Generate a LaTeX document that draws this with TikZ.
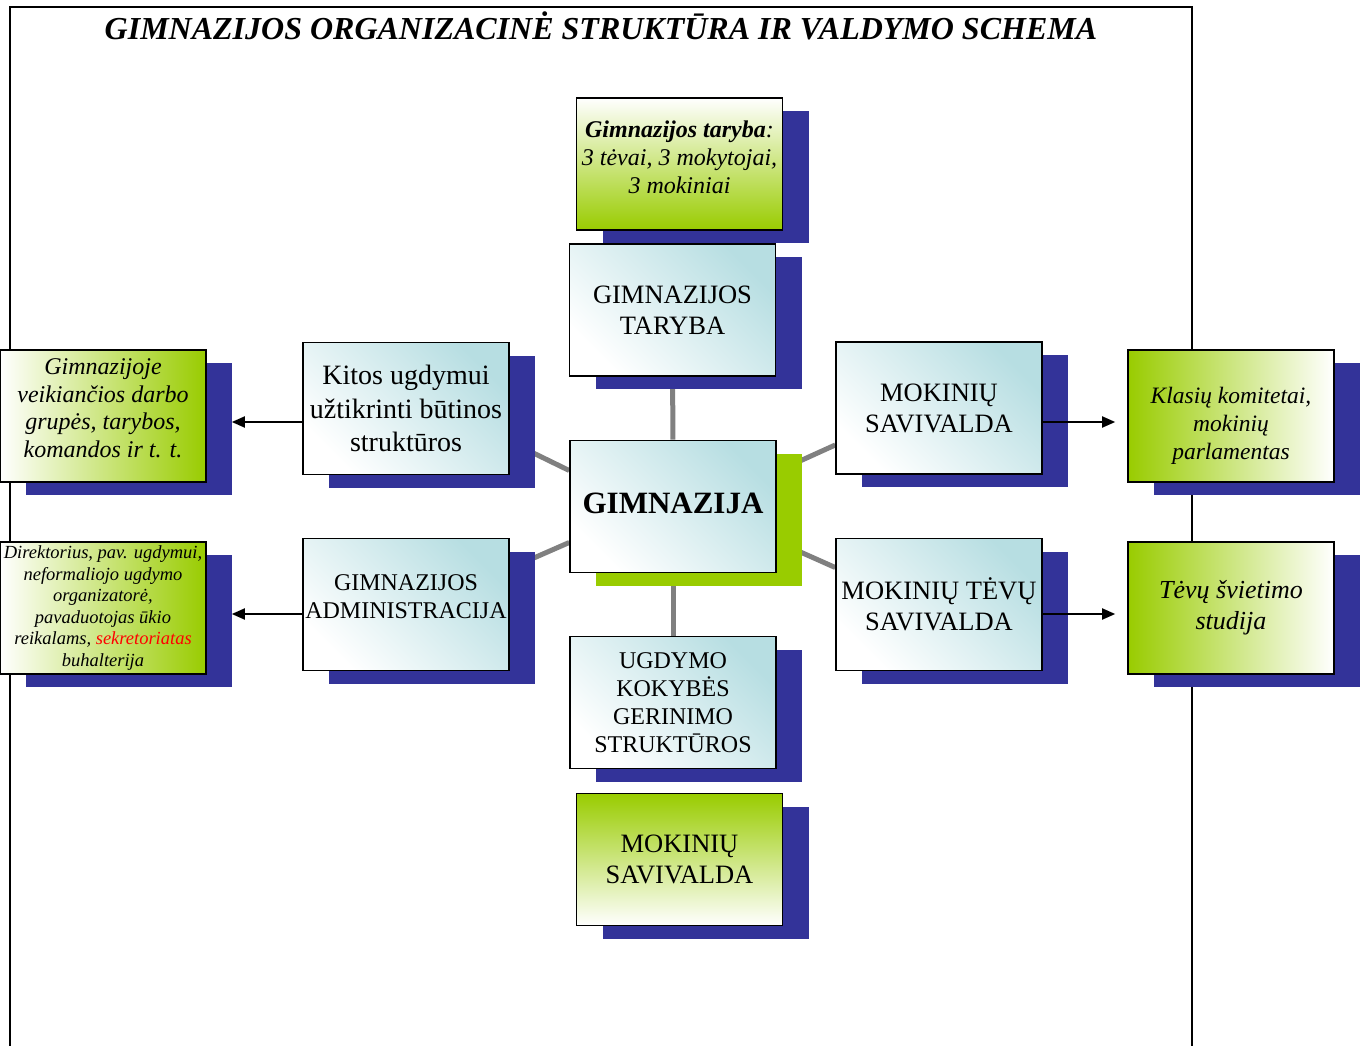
\documentclass[tikz,border=0pt]{standalone}
\usepackage{fontspec}
\setmainfont{Liberation Serif}
\usetikzlibrary{shadows,arrows.meta,backgrounds,calc}
\definecolor{shblue}{RGB}{51,51,153}
\definecolor{gimgreen}{RGB}{153,204,0}
\definecolor{lteal}{RGB}{183,222,226}
\definecolor{linkgray}{RGB}{128,128,128}
\begin{document}
\begin{tikzpicture}[x=1pt, y=-1pt,
    box/.style={draw=black, line width=1.6pt, minimum width=206pt, minimum height=132pt, inner sep=1pt, align=center},
    bshadow/.style={drop shadow={shadow xshift=26pt, shadow yshift=-13pt, fill=shblue, opacity=1}},
    gshadow/.style={drop shadow={shadow xshift=26pt, shadow yshift=-13pt, fill=gimgreen, opacity=1}},
    bluebox/.style={box, bshadow, top color=lteal, bottom color=white, shading angle=-45},
    gleft/.style={box, bshadow, left color=white, right color=gimgreen},
    gright/.style={box, bshadow, left color=gimgreen, right color=white},
    gtop/.style={box, bshadow, top color=white, bottom color=gimgreen},
    gbot/.style={box, bshadow, top color=gimgreen, bottom color=white},
    link/.style={draw=linkgray, line width=5pt},
    arr/.style={draw=black, line width=1.8pt, -{Triangle[length=13pt,width=11pt]}}
  ]
    \useasboundingbox (0,0) rectangle (1366,1046);
    % ramas
    \draw[line width=2.2pt] (10,1046) -- (10,7) -- (1192,7) -- (1192,1046);
    \node[anchor=base, font=\bfseries\itshape\fontsize{32}{38}\selectfont] (title) at (601,40)
      {GIMNAZIJOS ORGANIZACINĖ STRUKTŪRA IR VALDYMO SCHEMA};
    % centrinis stulpelis
    \node[gtop, font=\itshape\fontsize{24}{28}\selectfont] (tarybaG) at (679.5,164)
      {\textbf{Gimnazijos taryba}:\\3 tėvai, 3 mokytojai,\\3 mokiniai\\[-14pt]};
    \node[bluebox, font=\fontsize{26.5}{31}\selectfont] (taryba) at (672.5,310) {GIMNAZIJOS\\TARYBA};
    \node[box, gshadow, top color=lteal, bottom color=white, shading angle=-45,
      font=\bfseries\fontsize{31}{36}\selectfont] (gim) at (673,506.5) {\raisebox{6pt}{GIMNAZIJA}};
    \node[bluebox, font=\fontsize{24}{28}\selectfont] (ugdymo) at (673,702.5)
      {UGDYMO\\KOKYBĖS\\GERINIMO\\STRUKTŪROS};
    \node[gbot, font=\fontsize{26.5}{31}\selectfont] (savivaldaB) at (679.5,859.5) {MOKINIŲ\\SAVIVALDA};
    % kairė
    \node[bluebox, font=\fontsize{28}{33.5}\selectfont] (kitos) at (406,408.5)
      {Kitos ugdymui\\užtikrinti būtinos\\struktūros};
    \node[bluebox, font=\fontsize{24}{28}\selectfont] (admin) at (406,604.5)
      {GIMNAZIJOS\\ADMINISTRACIJA\\[-12pt]};
    \node[gleft, font=\itshape\fontsize{24}{27.7}\selectfont] (grupes) at (103,416)
      {Gimnazijoje\\veikiančios darbo\\grupės, tarybos,\\komandos ir t. t.\\[-12pt]};
    \node[gleft, font=\itshape\fontsize{18.5}{21.6}\selectfont] (direkt) at (103,608)
      {Direktorius, pav. ugdymui,\\neformaliojo ugdymo\\organizatorė,\\pavaduotojas ūkio\\reikalams, \textcolor{red}{sekretoriatas}\\buhalterija};
    % dešinė
    \node[bluebox, font=\fontsize{26.5}{31}\selectfont] (mokiniu) at (939,408) {MOKINIŲ\\SAVIVALDA};
    \node[bluebox, font=\fontsize{26.5}{31}\selectfont] (tevu) at (939,604.5) {MOKINIŲ TĖVŲ\\SAVIVALDA};
    \node[gright, font=\itshape\fontsize{23.5}{28}\selectfont] (klasiu) at (1231,416)
      {Klasių komitetai,\\mokinių\\parlamentas\\[-42pt]};
    \node[gright, font=\itshape\fontsize{26}{31}\selectfont] (studija) at (1231,608) {Tėvų švietimo\\studija};
    % jungtys
    \begin{pgfonlayer}{background}
      \draw[link] (taryba) -- (gim);
      \draw[link] (gim) -- (ugdymo);
      \draw[link] ([yshift=-33pt]kitos.east) -- ([yshift=36pt]gim.west);
      \draw[link] ([yshift=36pt]admin.east) -- ([yshift=-36pt]gim.west);
      \draw[link] ([yshift=35pt]gim.east) -- ([yshift=-37pt]mokiniu.west);
      \draw[link] ([yshift=-35pt]gim.east) -- ([yshift=37pt]tevu.west);
    \end{pgfonlayer}
    \draw[arr, shorten >=25pt] ($(kitos.west |- grupes.east)+(0,6)$) -- ($(grupes.east)+(0,6)$);
    \draw[arr, shorten >=25pt] ($(admin.west |- direkt.east)+(0,6)$) -- ($(direkt.east)+(0,6)$);
    \draw[arr, shorten >=12pt] ($(mokiniu.east |- klasiu.west)+(0,6)$) -- ($(klasiu.west)+(0,6)$);
    \draw[arr, shorten >=12pt] ($(tevu.east |- studija.west)+(0,6)$) -- ($(studija.west)+(0,6)$);
\end{tikzpicture}
\end{document}
